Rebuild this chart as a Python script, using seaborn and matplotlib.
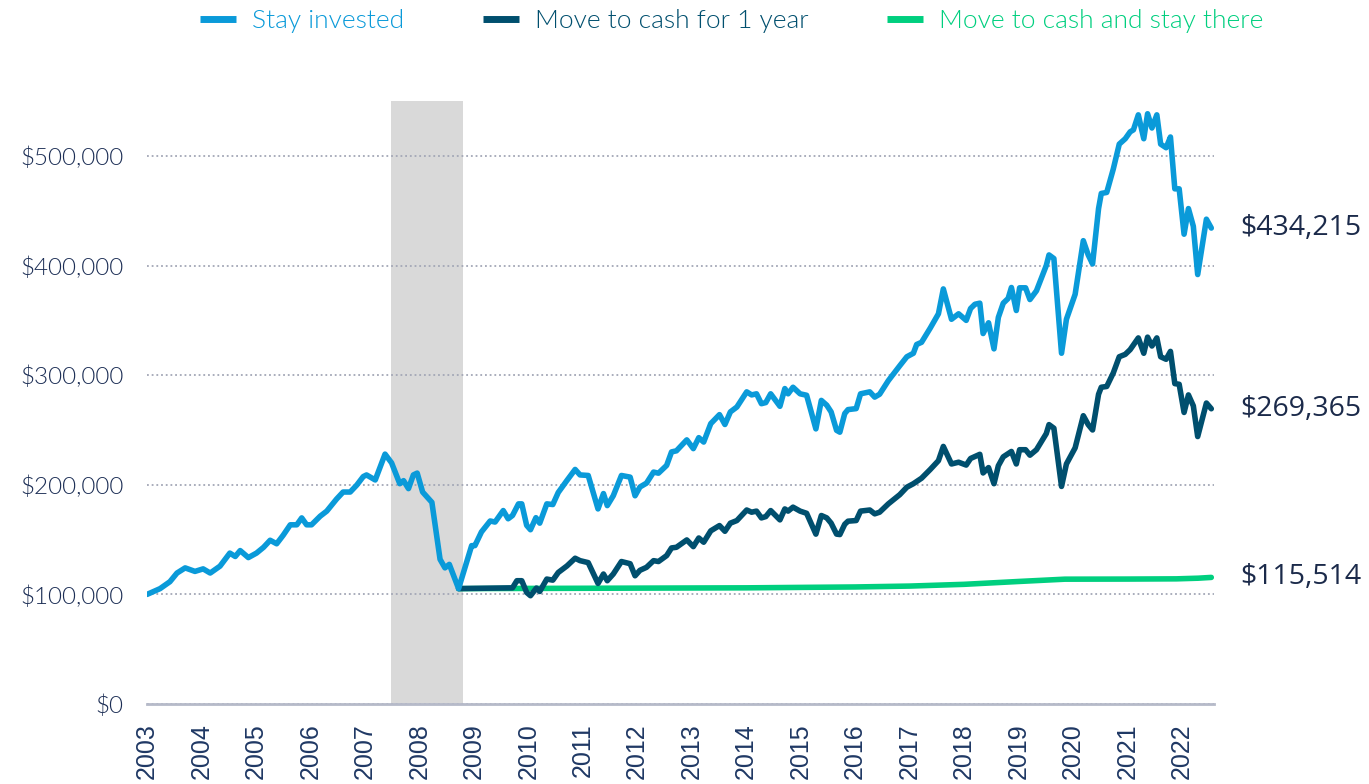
import pandas as pd
import seaborn as sns
import matplotlib.pyplot as plt
from matplotlib.lines import Line2D

# Datos (valores en miles de dolares)
blue_year = [2003.00, 2003.24, 2003.42, 2003.55, 2003.70, 2003.88, 2004.03, 2004.16, 2004.34, 2004.52,
             2004.62, 2004.71, 2004.86, 2005.01, 2005.14, 2005.26, 2005.38, 2005.50, 2005.63, 2005.75,
             2005.84, 2005.93, 2006.02, 2006.18, 2006.30, 2006.48, 2006.60, 2006.73, 2006.85, 2006.97,
             2007.03, 2007.19, 2007.37, 2007.49, 2007.64, 2007.71, 2007.80, 2007.89, 2007.96, 2008.06,
             2008.23, 2008.38, 2008.47, 2008.55, 2008.72,
             2008.96, 2009.02, 2009.14, 2009.30, 2009.39, 2009.54, 2009.63, 2009.71, 2009.82, 2009.88,
             2009.97, 2010.04, 2010.14, 2010.21, 2010.34, 2010.45, 2010.55, 2010.71, 2010.86, 2010.95,
             2011.10, 2011.28, 2011.38, 2011.45, 2011.56, 2011.71, 2011.87, 2011.96, 2012.05, 2012.17,
             2012.30, 2012.39, 2012.54, 2012.63, 2012.72, 2012.91, 2013.03, 2013.13, 2013.22, 2013.35,
             2013.51, 2013.61, 2013.71, 2013.83, 2014.01, 2014.10, 2014.19, 2014.28, 2014.36, 2014.45,
             2014.62, 2014.71, 2014.77, 2014.86, 2014.99, 2015.11, 2015.28, 2015.38, 2015.48, 2015.56,
             2015.66, 2015.72, 2015.81, 2015.87, 2016.02, 2016.10, 2016.27, 2016.36, 2016.45, 2016.61,
             2016.82, 2016.95, 2017.07, 2017.13, 2017.22, 2017.38, 2017.53, 2017.62, 2017.77, 2017.90,
             2018.04, 2018.12, 2018.20, 2018.29, 2018.35, 2018.45, 2018.55, 2018.63, 2018.72, 2018.81,
             2018.87, 2018.96, 2019.02, 2019.13, 2019.21, 2019.33, 2019.51, 2019.56, 2019.65, 2019.79,
             2019.88, 2020.04, 2020.19, 2020.28, 2020.36, 2020.47, 2020.52, 2020.62, 2020.74, 2020.85,
             2020.96, 2021.05, 2021.11, 2021.20, 2021.30, 2021.37, 2021.45, 2021.54, 2021.61, 2021.71,
             2021.79, 2021.87, 2021.95, 2022.04, 2022.12, 2022.21, 2022.29, 2022.45, 2022.54]
blue_value = [100, 105.3, 111.6, 119.5, 124.2, 121, 123.3, 119.5, 125.8, 137.7,
              134.6, 140, 133.6, 137.7, 143, 149.4, 146.2, 154, 163.5, 163.5,
              169.8, 163.5, 163.5, 171.4, 176, 187, 193.4, 193.4, 199.7, 207.5,
              209, 204.4, 228, 220, 201, 203.8, 196.5, 209, 210.7, 193.4,
              184, 132, 124.2, 127.4, 105.3,
              144.5, 144.5, 157, 167, 166, 176.5, 169, 172, 182.6, 182.6,
              163, 159, 170, 165, 182.6, 182, 193, 204, 214, 209,
              208.5, 178, 192, 181, 190, 208.5, 207, 190, 198, 201.5,
              211.6, 210.6, 217.7, 230, 231, 241, 233, 243, 239, 255.8,
              264, 255, 266.5, 271, 284.8, 282, 283, 274, 275, 283,
              271.6, 287.8, 283, 289, 283, 281.7, 251, 277, 272.6, 266.5,
              249.7, 248, 265, 268.6, 269.5, 283, 284.8, 280, 282.6, 295,
              308.6, 316.8, 320, 328, 330, 343, 356, 378.7, 351, 356,
              350, 360.8, 364.7, 365.7, 338, 347.8, 324, 352.7, 365.7, 370,
              380, 359, 379.7, 379.7, 369, 377, 400, 409.7, 406.4, 320,
              351, 373.8, 422.7, 409.7, 401.5, 452, 465.8, 466.7, 488, 510.8,
              515.7, 522, 523.8, 537.5, 515.7, 538.5, 525.5, 537.5, 510.8, 507.5,
              517.3, 470, 470, 428.6, 452, 435.8, 391.8, 442.3, 434.215]

dark_year = [2008.72, 2009.71, 2009.79, 2009.88, 2009.97, 2010.04, 2010.15, 2010.21, 2010.34, 2010.45,
             2010.55, 2010.71, 2010.86, 2010.95, 2011.10, 2011.28, 2011.38, 2011.45, 2011.56, 2011.71,
             2011.87, 2011.96, 2012.05, 2012.17, 2012.30, 2012.39, 2012.54, 2012.63, 2012.72, 2012.91,
             2013.03, 2013.13, 2013.22, 2013.35, 2013.51, 2013.61, 2013.71, 2013.83, 2014.01, 2014.10,
             2014.19, 2014.28, 2014.36, 2014.45, 2014.62, 2014.71, 2014.77, 2014.86, 2014.99, 2015.11,
             2015.28, 2015.38, 2015.48, 2015.56, 2015.66, 2015.72, 2015.81, 2015.87, 2016.02, 2016.10,
             2016.27, 2016.36, 2016.45, 2016.61,
             2016.82, 2016.95, 2017.07, 2017.22, 2017.38, 2017.53, 2017.62, 2017.77, 2017.90, 2018.04,
             2018.12, 2018.29, 2018.35, 2018.45, 2018.55, 2018.63, 2018.72, 2018.87, 2018.96, 2019.02,
             2019.13, 2019.21, 2019.33, 2019.51, 2019.56, 2019.65, 2019.79, 2019.88, 2020.04, 2020.19,
             2020.28, 2020.36, 2020.47, 2020.52, 2020.62, 2020.74, 2020.85, 2020.96, 2021.05, 2021.20,
             2021.30, 2021.37, 2021.45, 2021.54, 2021.61, 2021.71, 2021.79, 2021.87, 2021.95, 2022.04,
             2022.12, 2022.21, 2022.29, 2022.45, 2022.54]
dark_value = [105.3, 106, 112.5, 112.5, 101.8, 98.8, 105.8, 102.7, 114, 113,
              120, 126, 133, 130.8, 129, 110, 118.6, 112.5, 118.6, 130,
              128, 117, 122, 124.7, 130.8, 130, 135.4, 142.4, 143, 149.7,
              143.6, 151.5, 147.6, 158, 162.8, 157.6, 165, 167.4, 177, 175,
              176, 169.8, 171, 176.5, 168, 178, 176, 179.6, 176, 174,
              155, 172, 169.8, 165, 155, 154.6, 164, 166.8, 167.4, 176,
              177, 173.5, 175, 182.6,
              191, 197.8, 201, 206, 214, 222, 235, 219, 220.6, 218,
              224, 227.8, 210.8, 215.7, 201, 217.4, 225.5, 230.4, 219, 232,
              232, 227, 232, 246.7, 254.9, 251.6, 198.5, 219, 233.7, 263,
              254.9, 250, 282.6, 289, 289.7, 302, 316.8, 319, 323.3, 334,
              320, 334.7, 326.6, 334, 316.8, 314.5, 321.7, 292.3, 291.7, 266,
              282, 272, 244, 274.6, 269.365]

green_year = [2008.72, 2011.0, 2014.0, 2016.0, 2017.0, 2018.0, 2019.0, 2019.85, 2021.0, 2021.9, 2022.3, 2022.54]
green_value = [105.3, 105.6, 106.0, 106.8, 107.6, 109.2, 111.8, 113.9, 114.0, 114.2, 114.8, 115.514]

series_names = ["Stay invested", "Move to cash for 1 year", "Move to cash and stay there"]
colors = ["#0a9ad9", "#004f6e", "#00cf7f"]
year_ticks = list(range(2003, 2023))
value_ticks = [0, 100, 200, 300, 400, 500]
shade_start, shade_end = 2007.48, 2008.80

df = pd.concat([
    pd.DataFrame({"year": blue_year, "value": blue_value, "serie": series_names[0]}),
    pd.DataFrame({"year": dark_year, "value": dark_value, "serie": series_names[1]}),
    pd.DataFrame({"year": green_year, "value": green_value, "serie": series_names[2]}),
])

sns.set_theme(style="white")
navy = "#1c2e55"
axis_gray = "#b6bac9"

fig, ax = plt.subplots(figsize=(13.69, 7.84), dpi=100)
fig.subplots_adjust(left=0.1074, right=0.8868, bottom=0.102, top=0.871)

ax.axvspan(shade_start, shade_end, color="#d9d9d9", lw=0, zorder=0.3)

# orden inverso para que la linea azul quede arriba
for name, col in reversed(list(zip(series_names, colors))):
    sub = df[df["serie"] == name]
    sns.lineplot(data=sub, x="year", y="value", color=col, lw=4, ax=ax,
                 estimator=None, sort=False, legend=False, zorder=3)

ax.set_xlim(2003, 2022.59)
ax.set_ylim(0, 550)
ax.set_xticks(year_ticks)
ax.set_xticklabels([str(y) for y in year_ticks], rotation=90, fontsize=18,
                   family="Liberation Sans", color="#1f3864")
ax.set_yticks(value_ticks)
ax.set_yticklabels([f"${v * 1000:,.0f}" for v in value_ticks], fontsize=17.5,
                   family="Lato", fontweight=300, color=navy)
ax.set(xlabel="", ylabel="")

ax.tick_params(axis="x", direction="in", length=7, width=1.5, color=axis_gray, pad=14)
ax.tick_params(axis="y", length=0, pad=17)

for s in ["left", "top", "right"]:
    ax.spines[s].set_visible(False)
ax.spines["bottom"].set_color(axis_gray)
ax.spines["bottom"].set_linewidth(2)

ax.yaxis.grid(True, linestyle=(0, (1, 1.6)), color="#a3a7b6", lw=1.3)
ax.xaxis.grid(False)
ax.set_axisbelow(True)

# etiquetas con el valor final de cada serie
for yrs, vals in [(blue_year, blue_value), (dark_year, dark_value), (green_year, green_value)]:
    ax.annotate(f"${vals[-1] * 1000:,.0f}", xy=(yrs[-1], vals[-1]), xytext=(21, 0),
                textcoords="offset points", va="center", ha="left", fontsize=20.5,
                family="Open Sans", color="#1b2a4a", annotation_clip=False)

handles = [Line2D([], [], color=c, lw=5, solid_capstyle="butt") for c in colors]
leg = fig.legend(handles, series_names, loc="center", bbox_to_anchor=(0.5346, 0.973), ncol=3,
                 frameon=False, prop={"family": "Lato", "size": 19, "weight": 300},
                 handlelength=1.35, handletextpad=0.6, columnspacing=3.0)
for txt, c in zip(leg.get_texts(), colors):
    txt.set_color(c)

plt.savefig("out.png", dpi=100)
